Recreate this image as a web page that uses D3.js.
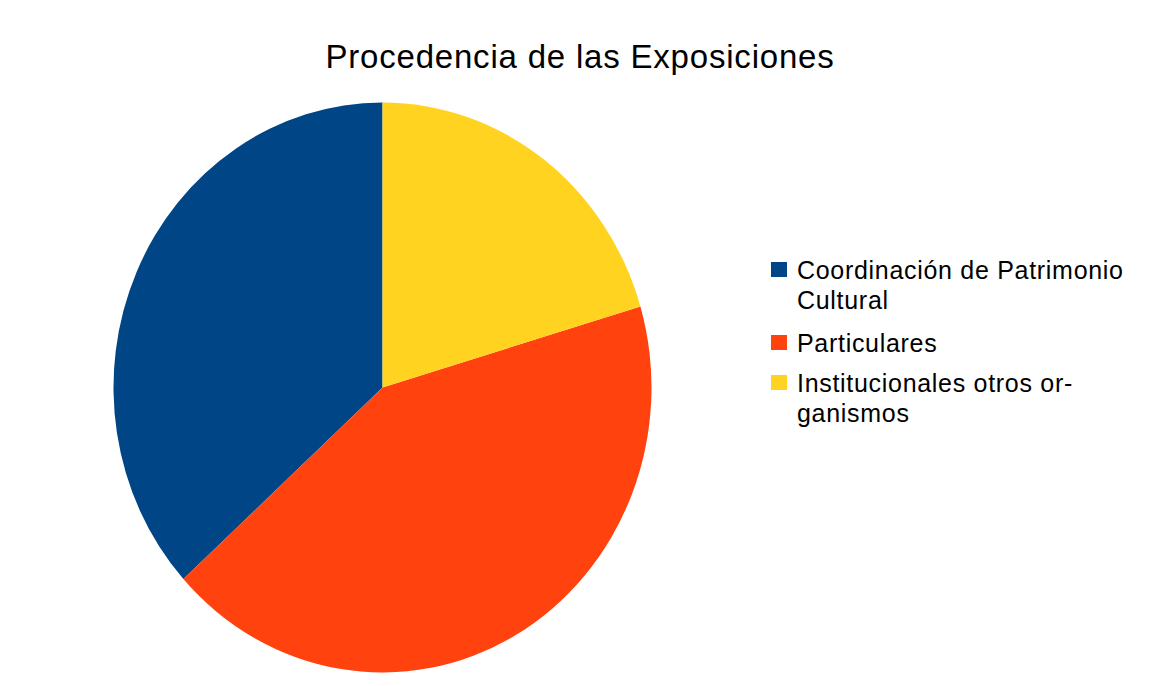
<!DOCTYPE html>
<html>
<head>
<meta charset="utf-8">
<script src="https://cdn.jsdelivr.net/npm/d3@7"></script>
<style>
  body { margin: 0; background: #fff; }
  text { font-family: "Liberation Sans", Arial, sans-serif; fill: #000; }
</style>
</head>
<body>
<div id="chart"></div>
<script>
// data
var categories = ["Coordinación de Patrimonio Cultural", "Particulares", "Institucionales otros organismos"];
var values = [18, 21, 10];
var colors = ["#004586", "#ff420e", "#ffd320"];
// legend lines (wrapped as in the original)
var legendLines = [["Coordinación de Patrimonio", "Cultural"], ["Particulares"], ["Institucionales otros or-", "ganismos"]];

var width = 1150, height = 686;

var svg = d3.select("#chart")
  .append("svg")
    .attr("width", width)
    .attr("height", height);

// title
svg.append("text")
  .attr("x", 580)
  .attr("y", 68)
  .attr("text-anchor", "middle")
  .style("font-size", "33px")
  .style("letter-spacing", "0.8px")
  .text("Procedencia de las Exposiciones");

// pie (slightly squeezed horizontally like the original)
var ry = 285, rx = 269;
var g = svg.append("g")
  .attr("transform", "translate(382.5,387.5) scale(" + (rx / ry) + ",1)");

var pie = d3.pie()
  .sort(null)
  .startAngle(0)
  .endAngle(-2 * Math.PI)
  .value(function(d) { return d; });

var arc = d3.arc()
  .innerRadius(0)
  .outerRadius(ry);

g.selectAll("path")
  .data(pie(values))
  .enter()
  .append("path")
    .attr("d", arc)
    .attr("fill", function(d, i) { return colors[i]; })
    .attr("stroke", "none");

// legend
var legendY = [279, 352, 392];
var legend = svg.append("g");

categories.forEach(function(c, i) {
  legend.append("rect")
    .attr("x", 771)
    .attr("y", legendY[i] - 17)
    .attr("width", 16)
    .attr("height", 15)
    .attr("fill", colors[i]);

  var t = legend.append("text")
    .attr("x", 797)
    .attr("y", legendY[i])
    .style("font-size", "25px")
    .style("letter-spacing", "0.7px");
  legendLines[i].forEach(function(line, j) {
    t.append("tspan")
      .attr("x", 797)
      .attr("dy", j == 0 ? 0 : 30)
      .text(line);
  });
});
</script>
</body>
</html>
